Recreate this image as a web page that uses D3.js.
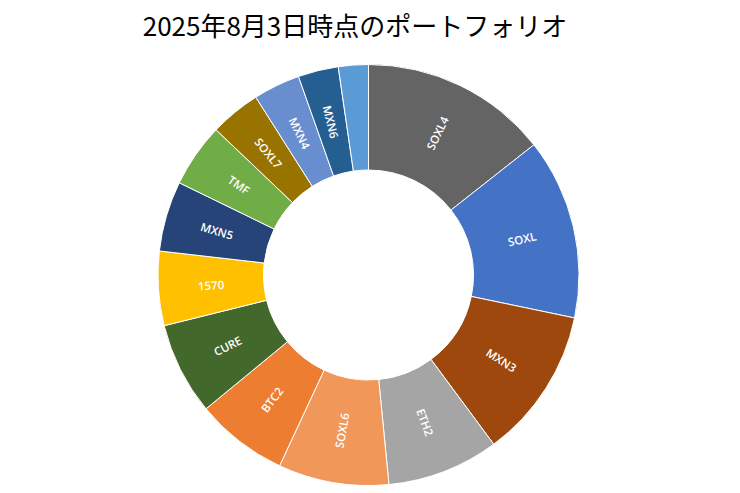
<!DOCTYPE html>
<html>
<head>
<meta charset="utf-8">
<script src="https://cdn.jsdelivr.net/npm/d3@7"></script>
<style>
html,body{margin:0;padding:0;background:#fff;}
svg{display:block;}
</style>
</head>
<body>
<svg id="chart" width="740" height="493"></svg>
<script>
const title = "2025年8月3日時点のポートフォリオ";
const categories = ["SOXL4","SOXL","MXN3","ETH2","SOXL6","BTC2","CURE","1570","MXN5","TMF","SOXL7","MXN4","MXN6",""];
const values = [14.4,13.9,11.6,8.6,8.5,7.1,7.1,5.7,5.4,4.9,3.9,3.6,3.1,2.3];
const colors = ["#646464","#4472C4","#9E480E","#A5A5A5","#F1975A","#ED7D31","#43682B","#FFC000","#264478","#70AD47","#997300","#698ED0","#255E91","#5B9BD5"];

const svg = d3.select("#chart");
const cx = 368.5, cy = 275, outerR = 210.5, innerR = 105;

svg.append("text")
  .attr("x", 355).attr("y", 36)
  .attr("text-anchor","middle")
  .attr("font-family","'Noto Sans CJK JP','Noto Sans',sans-serif")
  .attr("font-size", 26)
  .attr("font-weight", 400)
  .attr("fill","#000")
  .text(title);

const data = categories.map((c,i)=>({name:c, value:values[i], color:colors[i]}));
const pie = d3.pie().value(d=>d.value).sort(null);
const arc = d3.arc().innerRadius(innerR).outerRadius(outerR);
const arcs = pie(data);

const g = svg.append("g").attr("transform",`translate(${cx},${cy})`);
g.selectAll("path").data(arcs).enter().append("path")
  .attr("d", arc)
  .attr("fill", d=>d.data.color)
  .attr("stroke","#fff")
  .attr("stroke-width",1);

g.selectAll("text.lbl").data(arcs.filter(d=>d.data.name)).enter().append("text")
  .attr("class","lbl")
  .attr("transform", d=>{
    const [x,y] = arc.centroid(d);
    const mid = (d.startAngle+d.endAngle)/2*180/Math.PI;
    const rot = mid < 180 ? mid-90 : mid-270;
    return `translate(${x},${y}) rotate(${rot})`;
  })
  .attr("text-anchor","middle")
  .attr("dominant-baseline","central")
  .attr("font-family","'Open Sans','Noto Sans',sans-serif")
  .attr("font-size",11.5)
  .attr("font-weight",600)
  .attr("fill","#fff")
  .text(d=>d.data.name);
</script>
</body>
</html>
